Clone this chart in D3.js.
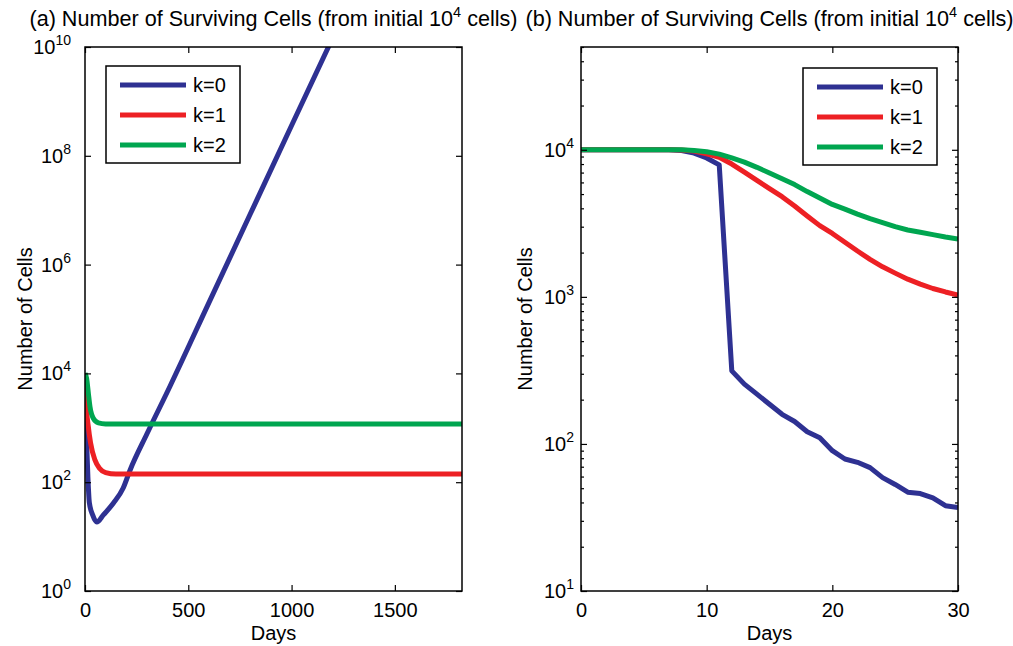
<!DOCTYPE html>
<html>
<head>
<meta charset="utf-8">
<script src="https://cdn.jsdelivr.net/npm/d3@7"></script>
<style>
    body { margin: 0; background: #fff; }
    svg { display: block; font-family: 'Liberation Sans', Arial, sans-serif; }
</style>
</head>
<body>
<div class="js-chart"></div>
<script>
'use strict';

var seriesNames = ['k=0', 'k=1', 'k=2'];
var seriesColors = ['#2e3192', '#ed2024', '#00a650'];

//panel (a) - long run, each curve has its own day samples
var daysA0 = [0, 4, 8, 14, 21, 37, 57, 89, 137, 185, 218, 300, 411, 600, 800, 1000, 1200];
var cellsA0 = [10000, 2000, 525, 125, 42, 25, 18.5, 25, 41, 78, 166, 776, 5750, 2.0e5, 8.5e6, 3.6e8, 1.5e10];
var daysA1 = [0, 4, 8, 16, 27, 48, 70, 100, 150, 1825];
var cellsA1 = [10000, 5000, 2140, 1050, 525, 257, 180, 150, 141, 141];
var daysA2 = [0, 8, 16, 24, 40, 65, 100, 200, 1825];
var cellsA2 = [10000, 8000, 4400, 2450, 1500, 1230, 1180, 1170, 1170];

//panel (b) - first 30 days
var daysB = [0, 1, 2, 3, 4, 5, 6, 7, 8, 9, 10, 11, 12, 13, 14, 15, 16, 17, 18, 19, 20,
    21, 22, 23, 24, 25, 26, 27, 28, 29, 30];
var cellsB0 = [10000, 10000, 10000, 10000, 10000, 10000, 10000, 10000, 9900, 9500, 8800,
    7900, 314, 255, 218, 186, 159, 142, 121, 110, 90, 79, 75, 69, 59, 53, 47, 46, 43, 38, 37];
var cellsB1 = [10000, 10000, 10000, 10000, 10000, 10000, 10000, 10000, 9950, 9800, 9400,
    8900, 8000, 7050, 6200, 5450, 4800, 4150, 3550, 3050, 2700, 2350, 2050, 1800, 1600,
    1450, 1320, 1220, 1140, 1080, 1030];
var cellsB2 = [10000, 10000, 10000, 10000, 10000, 10000, 10000, 10000, 10000, 9900, 9700,
    9350, 8800, 8250, 7600, 6950, 6350, 5800, 5200, 4700, 4250, 3950, 3650, 3400, 3200,
    3000, 2850, 2750, 2650, 2550, 2470];

var xTicksA = [0, 500, 1000, 1500];
var yTicksA = [1e0, 1e2, 1e4, 1e6, 1e8, 1e10];
var xTicksB = [0, 10, 20, 30];
var yTicksB = [1e1, 1e2, 1e3, 1e4];

var W = 1013, H = 646;
var svg = d3.select('.js-chart').append('svg').attr('width', W).attr('height', H);

function zip(xs, ys) {
    return xs.map(function (x, i) { return [x, ys[i]]; });
}

//superscript labels like 10^4
function powLabel(sel) {
    sel.each(function (d) {
        var t = d3.select(this);
        t.text('10');
        t.append('tspan').attr('dy', '-9').attr('font-size', '14px')
            .text(Math.round(Math.log10(d)));
    });
}

function drawPanel(p) {
    var x = d3.scaleLinear().domain(p.xDomain).range([p.left, p.right]);
    var y = d3.scaleLog().domain(p.yDomain).range([p.bottom, p.top]);
    var g = svg.append('g');

    //clip lines to the plotting box
    g.append('clipPath').attr('id', p.id)
        .append('rect')
        .attr('x', p.left).attr('y', p.top)
        .attr('width', p.right - p.left).attr('height', p.bottom - p.top);

    var line = d3.line()
        .x(function (d) { return x(d[0]); })
        .y(function (d) { return y(d[1]); })
        .curve(p.curve);

    p.series.forEach(function (s, i) {
        g.append('path')
            .datum(s)
            .attr('d', line)
            .attr('clip-path', 'url(#' + p.id + ')')
            .style('fill', 'none')
            .style('stroke', seriesColors[i])
            .style('stroke-width', 5)
            .style('stroke-linejoin', 'round');
    });

    //minor log ticks (panel b only)
    if (p.minor) {
        var minor = [];
        for (var e = 1; e <= 4; e++) {
            for (var m = 2; m <= 9; m++) {
                var v = m * Math.pow(10, e);
                if (v <= p.yDomain[1]) { minor.push(v); }
            }
        }
        g.append('g').attr('transform', 'translate(' + p.left + ',0)')
            .call(d3.axisLeft(y).tickValues(minor).tickSize(-3).tickFormat(''));
        g.append('g').attr('transform', 'translate(' + p.right + ',0)')
            .call(d3.axisRight(y).tickValues(minor).tickSize(-3).tickFormat(''));
    }

    //axes with inward ticks
    g.append('g').attr('class', 'ax-b').attr('transform', 'translate(0,' + p.bottom + ')')
        .call(d3.axisBottom(x).tickValues(p.xTicks).tickSize(-6).tickPadding(12).tickFormat(d3.format('d')));
    g.append('g').attr('transform', 'translate(0,' + p.top + ')')
        .call(d3.axisTop(x).tickValues(p.xTicks).tickSize(-6).tickFormat(''));
    g.append('g').attr('class', 'ax-l').attr('transform', 'translate(' + p.left + ',0)')
        .call(d3.axisLeft(y).tickValues(p.yTicks).tickSize(-6).tickPadding(p.yPad));
    g.append('g').attr('transform', 'translate(' + p.right + ',0)')
        .call(d3.axisRight(y).tickValues(p.yTicks).tickSize(-6).tickFormat(''));

    g.select('.ax-l').selectAll('.tick text').call(powLabel);

    g.selectAll('.domain').remove();
    g.selectAll('.tick line').style('stroke', '#000').style('stroke-width', 1.2);
    g.selectAll('.tick text').style('font-size', '20px').style('fill', '#000')
        .style('font-family', "'Liberation Sans', Arial, sans-serif");

    //box
    g.append('rect')
        .attr('x', p.left).attr('y', p.top)
        .attr('width', p.right - p.left).attr('height', p.bottom - p.top)
        .style('fill', 'none').style('stroke', '#000').style('stroke-width', 1.5);

    //title
    var cx = (p.left + p.right) / 2;
    var title = g.append('text')
        .attr('x', cx).attr('y', 26)
        .attr('text-anchor', 'middle')
        .style('font-size', '21.6px')
        .text(p.title + ' Number of Surviving Cells (from initial 10');
    title.append('tspan').attr('dy', '-9').style('font-size', '14.5px').text('4');
    title.append('tspan').attr('dy', '9').text(' cells)');

    //axis labels
    g.append('text')
        .attr('x', cx).attr('y', 640)
        .attr('text-anchor', 'middle')
        .style('font-size', '20px')
        .text('Days');
    g.append('text')
        .attr('transform', 'translate(' + p.yLabelX + ',' + ((p.top + p.bottom) / 2) + ') rotate(-90)')
        .attr('text-anchor', 'middle')
        .style('font-size', '20px')
        .text('Number of Cells');

    //legend
    var lg = g.append('g').attr('transform', 'translate(' + p.legend[0] + ',' + p.legend[1] + ')');
    lg.append('rect')
        .attr('width', 134).attr('height', 97)
        .style('fill', '#fff').style('stroke', '#000').style('stroke-width', 1.5);
    seriesNames.forEach(function (name, i) {
        var ly = 19 + i * 30;
        lg.append('line')
            .attr('x1', 14).attr('x2', 80).attr('y1', ly).attr('y2', ly)
            .style('stroke', seriesColors[i]).style('stroke-width', 5);
        lg.append('text')
            .attr('x', 87).attr('y', ly).attr('dy', '0.36em')
            .style('font-size', '20px')
            .text(name);
    });
}

drawPanel({
    id: 'clipA',
    title: '(a)',
    left: 85, right: 462, top: 47, bottom: 591,
    xDomain: [0, 1825], yDomain: [1, 1e10],
    xTicks: xTicksA, yTicks: yTicksA,
    yPad: 14, yLabelX: 32,
    curve: d3.curveMonotoneX,
    minor: false,
    legend: [106, 66],
    series: [zip(daysA0, cellsA0), zip(daysA1, cellsA1), zip(daysA2, cellsA2)]
});

drawPanel({
    id: 'clipB',
    title: '(b)',
    left: 581, right: 958, top: 47, bottom: 591,
    xDomain: [0, 30], yDomain: [10, 5e4],
    xTicks: xTicksB, yTicks: yTicksB,
    yPad: 7, yLabelX: 532,
    curve: d3.curveLinear,
    minor: true,
    legend: [803, 68],
    series: [zip(daysB, cellsB0), zip(daysB, cellsB1), zip(daysB, cellsB2)]
});
</script>
</body>
</html>
